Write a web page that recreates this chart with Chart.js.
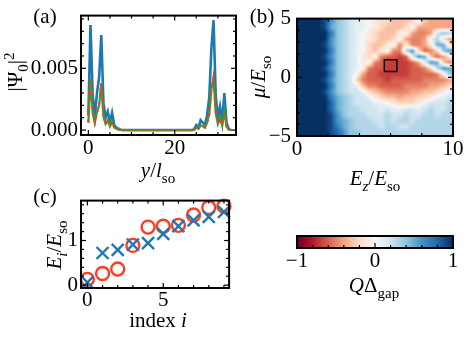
<!DOCTYPE html>
<html><head><meta charset="utf-8">
<script src="https://cdn.jsdelivr.net/npm/chart.js@4"></script>
<style>
html,body{margin:0;padding:0;background:#fff;}
body{width:469px;height:339px;position:relative;overflow:hidden;}
canvas{position:absolute;}
</style></head><body>
<canvas id="ca" width="240" height="185" style="left:0;top:0;width:240px;height:185px"></canvas>
<canvas id="cb" width="229" height="200" style="left:240px;top:0;width:229px;height:200px"></canvas>
<canvas id="cc" width="240" height="154" style="left:0;top:185px;width:240px;height:154px"></canvas>
<canvas id="cd" width="229" height="119" style="left:240px;top:220px;width:229px;height:119px"></canvas>
<script>
// ---------- panel (a) data ----------
const posY = [0,0.5,1,1.5,2,2.5,3,3.5,4,4.5,5,5.5,6,6.5,7,7.5,8,8.5,9,9.5,10,10.5,11,11.5,12,12.5,13,13.5,14,14.5,15,15.5,16,16.5,17,17.5,18,18.5,19,19.5,20,20.5,21,21.5,22,22.5,23,23.5,24,24.5,25,25.5,26,26.5,27,27.5,28,28.5,29,29.5,30,30.5,31,31.5,32,32.5,33];
const psiBlue = [0.0012,0.0085,0.0028,0.0012,0.0030,0.0043,0.0077,0.0022,0.0010,0.0015,0.0006,0.0014,0.0004,0.0002,0.0001,0.00003,
  0,0,0,0,0,0,0,0,0,0,0,
  0,0,0,0,0,0,0,0,0,0,0,
  0,0,0,0,0,0,0,0,0,0,0,
  0.00005,0.0004,0.0002,0.0008,0.0006,0.0004,0.0012,0.0026,0.0066,0.0089,0.0028,0.0010,0.0019,0.0007,0.0030,0.0006,0.0001,0];
const psiGreen = [0.0006,0.0042,0.0014,0.0006,0.0015,0.0020,0.0038,0.0011,0.0005,0.0008,0.0003,0.0007,0.0002,0.0001,0.00005,0.00002,
  0,0,0,0,0,0,0,0,0,0,0,
  0,0,0,0,0,0,0,0,0,0,0,
  0,0,0,0,0,0,0,0,0,0,0,
  0.00002,0.0002,0.0001,0.0004,0.0003,0.0002,0.0006,0.0013,0.0033,0.0043,0.0014,0.0005,0.0010,0.0004,0.0015,0.0003,0.00005,0];
const psiRed = [0.0006,0.0041,0.0015,0.0006,0.0014,0.0021,0.0037,0.0012,0.0005,0.0007,0.0003,0.0007,0.0002,0.0001,0.00005,0.00002,
  0,0,0,0,0,0,0,0,0,0,0,
  0,0,0,0,0,0,0,0,0,0,0,
  0,0,0,0,0,0,0,0,0,0,0,
  0.00002,0.0002,0.0001,0.0004,0.0003,0.0002,0.0006,0.0012,0.0032,0.0042,0.0015,0.0005,0.0009,0.0004,0.0014,0.0003,0.00005,0];
const aXTicks = [0,5,10,15,20,25,30];
const aXLabels = [0,20];
const aYTicks = [0,0.001,0.002,0.003,0.004,0.005,0.006,0.007,0.008,0.009];
const aYLabels = [0,0.005];

// ---------- panel (b) data ----------
const bXTicks = [0,2,4,6,8,10];
const bXLabels = [0,10];
const bYTicks = [-5,-4,-3,-2,-1,0,1,2,3,4,5];
const bYLabels = [-5,0,5];
const heatEz = [0,10];
const heatMu = [-5,5];
// rows from mu=+5 (top) to mu=-5 (bottom); columns Ez 0..10
// 'X'=1, '0'..'9'=0..0.9, 'a'..'j'=-0.1..-1.0
const heatRows = [
  "XXXX96432110abbcccb0cdddd",
  "XXXX95432110abcccb0dddddd",
  "XXXXX743210abccca0deed243",
  "XXXXX643210abccb0deed13bd",
  "XXXX9643210bcca0eaeeda55b",
  "XXXXX743210bca0ee36bfeb46",
  "XXXX964321ab0effgf165cfda",
  "XXXXX74321a0efggggfd165ce",
  "XXXX9643210effggggffeb365",
  "XXXXX74320dffgggggffffea4",
  "XXXX96432befffgfffffeeeed",
  "XXXXX74321ceeffffeeeeddcb",
  "XXXX9643221bcdeeeeddccba1",
  "XXXXX7543221abccdccbba112",
  "XXXXX8543222110abbba12223",
  "XXXXX85433222121122123223",
  "XXXXX96433322232232233233",
  "XXXXX96543332232332333333",
  "XXXXX97543333233223333333",
  "XXXXX98644333333333333333"
];
const boxEz = [5.6,6.4];
const boxMu = [0.5,1.5];

// ---------- panel (c) data ----------
const levelIndex = [0,1,2,3,4,5,6,7,8,9];
const energyCross = [0.06,0.72,0.79,0.91,0.94,1.15,1.32,1.45,1.53,1.64];
const energyCircle = [0.13,0.26,0.36,0.89,1.30,1.32,1.34,1.57,1.74,1.77];
const cXTicks = [0,1,2,3,4,5,6,7,8,9];
const cXLabels = [0,5];
const cYTicks = [0,0.2,0.4,0.6,0.8,1.0,1.2,1.4,1.6,1.8];
const cYLabels = [0,1];

// ---------- colorbar ----------
const cbTicks = [-1,-0.8,-0.6,-0.4,-0.2,0,0.2,0.4,0.6,0.8,1];
const cbLabels = [-1,0,1];
const rdbuStops = ['#67001f','#b2182b','#d6604d','#f4a582','#fddbc7','#f7f7f7','#d1e5f0','#92c5de','#4393c3','#2166ac','#053061'];

// ---------- helpers ----------
const FAM = "'Liberation Serif','DejaVu Serif',serif";
const TICKSIZE = 21;
Chart.defaults.font.family = FAM;
Chart.defaults.font.size = TICKSIZE;
Chart.defaults.color = '#000';
Chart.defaults.animation = false;

const isIn = (arr,v)=>arr.some(l=>Math.abs(l-v)<1e-9);
const fmtInt = v => (v<0?'\u2212':'') + Math.abs(Math.round(v));

function axis(min,max,ticks,labels,fmt,afterFit,pad){
  return {
    type:'linear', min, max,
    grid:{display:false, drawTicks:false}, border:{display:false},
    afterBuildTicks: s => { s.ticks = ticks.map(v=>({value:v})); },
    afterFit: afterFit,
    ticks:{autoSkip:false, maxRotation:0, minRotation:0, padding:pad,
      callback:(v)=> isIn(labels,v) ? fmt(v) : ''}
  };
}

function framePlugin(cfg){
  return {id:'frame'+Math.floor(Math.random()*1e6), afterDraw(chart){
    const {ctx, chartArea:a} = chart;
    const sx = chart.scales.x, sy = chart.scales.y;
    ctx.save(); ctx.strokeStyle='#000'; ctx.lineWidth=1.2;
    const ln=(x1,y1,x2,y2)=>{ctx.beginPath();ctx.moveTo(x1,y1);ctx.lineTo(x2,y2);ctx.stroke();};
    cfg.xTicks.forEach(v=>{ const p=sx.getPixelForValue(v); const L=isIn(cfg.xMajor,v)?5:3;
      ln(p,a.bottom,p,a.bottom-L); if(cfg.both) ln(p,a.top,p,a.top+L); });
    if(cfg.yTicks) cfg.yTicks.forEach(v=>{ const p=sy.getPixelForValue(v); const L=isIn(cfg.yMajor,v)?5:3;
      ln(a.left,p,a.left+L,p); if(cfg.both) ln(a.right,p,a.right-L,p); });
    ctx.lineWidth=2; ctx.strokeRect(a.left,a.top,a.right-a.left,a.bottom-a.top);
    ctx.restore();
  }};
}

function drawRich(ctx,x,y,segs,size,rot){
  ctx.save(); ctx.translate(x,y); if(rot) ctx.rotate(rot);
  const fontFor = s => (s.it?'italic ':'') + ((s.sub||s.sup)?Math.round(size*0.7):size) + 'px ' + FAM;
  let w=0; segs.forEach(s=>{ctx.font=fontFor(s); s.w=ctx.measureText(s.t).width; w+=s.w;});
  let cx=-w/2; ctx.textBaseline='alphabetic'; ctx.fillStyle='#000';
  segs.forEach(s=>{ctx.font=fontFor(s); const dy = s.sub? size*0.25 : (s.sup? -size*0.4 : 0);
    ctx.fillText(s.t,cx,dy+size*0.35); cx+=s.w;});
  ctx.restore();
}
function textPlugin(list,ox,oy){
  return {id:'txt'+Math.floor(Math.random()*1e6), afterDraw(chart){
    list.forEach(o=>drawRich(chart.ctx,o.x-ox,o.y-oy,o.segs,o.size||21,o.rot||0));
  }};
}

function hexToRgb(h){return [parseInt(h.slice(1,3),16),parseInt(h.slice(3,5),16),parseInt(h.slice(5,7),16)];}
const stopRgb = rdbuStops.map(hexToRgb);
function rdbu(v){
  const n=stopRgb.length-1; const t=(Math.max(-1,Math.min(1,v))+1)/2*n;
  const i=Math.min(Math.floor(t),n-1); const f=t-i;
  const a=stopRgb[i], b=stopRgb[i+1];
  return [a[0]+(b[0]-a[0])*f, a[1]+(b[1]-a[1])*f, a[2]+(b[2]-a[2])*f];
}
function decode(ch){
  if(ch==='X') return 1;
  if(ch>='0'&&ch<='9') return (ch.charCodeAt(0)-48)/10;
  return -(ch.charCodeAt(0)-96)/10;
}

// ---------- chart (a) ----------
const toXY = arr => posY.map((x,i)=>({x, y:arr[i]}));
new Chart(document.getElementById('ca'), {
  type:'scatter',
  data:{datasets:[
    {data:toXY(psiBlue), showLine:true, borderColor:'#1f77b4', borderWidth:2.6, pointRadius:0, order:2},
    {data:toXY(psiGreen), showLine:true, borderColor:'#2ca02c', borderWidth:2.2, pointRadius:0, order:1},
    {data:toXY(psiRed), showLine:true, borderColor:'#ff3b1f', borderWidth:2, borderDash:[3,4], pointRadius:0, order:0}
  ]},
  options:{responsive:false, devicePixelRatio:1,
    layout:{padding:{left:0,top:15,right:4,bottom:0}},
    plugins:{legend:{display:false}, tooltip:{enabled:false}},
    scales:{
      x: axis(-1.7,34.2,aXTicks,aXLabels,v=>String(v),s=>{s.height=50;},1),
      y: axis(-0.0004,0.00927,aYTicks,aYLabels,v=>v.toFixed(3),s=>{s.width=81;},3)
    }},
  plugins:[framePlugin({xTicks:aXTicks,xMajor:aXLabels,yTicks:aYTicks,yMajor:aYLabels,both:true}),
    textPlugin([
      {x:45,y:16,segs:[{t:'(a)'}]},
      {x:15,y:72,rot:-Math.PI/2,segs:[{t:'|\u03A8'},{t:'0',sub:true},{t:'|'},{t:'2',sup:true}]},
      {x:158,y:170,segs:[{t:'y',it:true},{t:'/'},{t:'l',it:true},{t:'so',sub:true}]}
    ],0,0)]
});

// ---------- chart (b) ----------
const heatPlugin = {id:'heat', beforeDatasetsDraw(chart){
  const {ctx, chartArea:a, scales:{x,y}} = chart;
  const nC=heatRows[0].length, nR=heatRows.length;
  const vals = heatRows.map(r=>r.split('').map(decode));
  const x0=x.getPixelForValue(heatEz[0]), x1=x.getPixelForValue(heatEz[1]);
  const y0=y.getPixelForValue(heatMu[1]), y1=y.getPixelForValue(heatMu[0]);
  const W=Math.round(x1-x0), H=Math.round(y1-y0);
  const off=document.createElement('canvas'); off.width=W; off.height=H;
  const octx=off.getContext('2d'); const img=octx.createImageData(W,H);
  for(let py=0;py<H;py++){
    let v=(py+0.5)/H*nR-0.5; v=Math.max(0,Math.min(nR-1,v));
    const r0=Math.floor(v), r1=Math.min(nR-1,r0+1), fy=v-r0;
    for(let px=0;px<W;px++){
      let u=(px+0.5)/W*nC-0.5; u=Math.max(0,Math.min(nC-1,u));
      const c0=Math.floor(u), c1=Math.min(nC-1,c0+1), fx=u-c0;
      const val=(vals[r0][c0]*(1-fx)+vals[r0][c1]*fx)*(1-fy)+(vals[r1][c0]*(1-fx)+vals[r1][c1]*fx)*fy;
      const col=rdbu(val); const k=(py*W+px)*4;
      img.data[k]=Math.round(col[0]); img.data[k+1]=Math.round(col[1]); img.data[k+2]=Math.round(col[2]); img.data[k+3]=255;
    }
  }
  octx.putImageData(img,0,0);
  ctx.save(); ctx.beginPath(); ctx.rect(a.left,a.top,a.right-a.left,a.bottom-a.top); ctx.clip();
  ctx.drawImage(off,x0,y0,W,H); ctx.restore();
}};
new Chart(document.getElementById('cb'), {
  type:'scatter',
  data:{datasets:[
    {data:[{x:boxEz[0],y:boxMu[0]},{x:boxEz[1],y:boxMu[0]},{x:boxEz[1],y:boxMu[1]},{x:boxEz[0],y:boxMu[1]},{x:boxEz[0],y:boxMu[0]}],
     showLine:true, borderColor:'#000', borderWidth:1.5, pointRadius:0, fill:false}
  ]},
  options:{responsive:false, devicePixelRatio:1,
    layout:{padding:{left:0,top:15,right:16,bottom:0}},
    plugins:{legend:{display:false}, tooltip:{enabled:false}},
    scales:{
      x: axis(0,10,bXTicks,bXLabels,fmtInt,s=>{s.height=64;},1),
      y: axis(-5,5,bYTicks,bYLabels,fmtInt,s=>{s.width=57;},6)
    }},
  plugins:[heatPlugin, framePlugin({xTicks:bXTicks,xMajor:bXLabels,yTicks:bYTicks,yMajor:bYLabels,both:true}),
    textPlugin([
      {x:262,y:16,segs:[{t:'(b)'}]},
      {x:258,y:77,rot:-Math.PI/2,segs:[{t:'\u03BC',it:true},{t:'/'},{t:'E',it:true},{t:'so',sub:true}]},
      {x:375,y:178,segs:[{t:'E',it:true},{t:'z',it:true,sub:true},{t:'/'},{t:'E',it:true},{t:'so',sub:true}]}
    ],240,0)]
});

// ---------- chart (c) ----------
new Chart(document.getElementById('cc'), {
  type:'scatter',
  data:{datasets:[
    {data:levelIndex.map((i,k)=>({x:i,y:energyCross[k]})), pointStyle:'crossRot', pointRadius:8.5, borderWidth:2.4, borderColor:'#1f77b4', backgroundColor:'#1f77b4', clip:false},
    {data:levelIndex.map((i,k)=>({x:i,y:energyCircle[k]})), pointStyle:'circle', pointRadius:6.5, borderWidth:2.4, borderColor:'#ff3b1f', backgroundColor:'rgba(0,0,0,0)', clip:false}
  ]},
  options:{responsive:false, devicePixelRatio:1,
    layout:{padding:{left:0,top:11,right:4,bottom:0}},
    plugins:{legend:{display:false}, tooltip:{enabled:false}},
    scales:{
      x: axis(-0.42,9.34,cXTicks,cXLabels,fmtInt,s=>{s.height=51;},0),
      y: axis(-0.064,1.894,cYTicks,cYLabels,fmtInt,s=>{s.width=81;},3)
    }},
  plugins:[framePlugin({xTicks:cXTicks,xMajor:cXLabels,yTicks:cYTicks,yMajor:cYLabels,both:true}),
    textPlugin([
      {x:45,y:196,segs:[{t:'(c)'}]},
      {x:54,y:245,rot:-Math.PI/2,segs:[{t:'E',it:true},{t:'i',it:true,sub:true},{t:'/'},{t:'E',it:true},{t:'so',sub:true}]},
      {x:158,y:320,segs:[{t:'index '},{t:'i',it:true}]}
    ],0,185)]
});

// ---------- colorbar ----------
const cbPlugin = {id:'cbar', beforeDatasetsDraw(chart){
  const {ctx, chartArea:a, scales:{x}} = chart;
  const g=ctx.createLinearGradient(x.getPixelForValue(-1),0,x.getPixelForValue(1),0);
  rdbuStops.forEach((c,i)=>g.addColorStop(i/(rdbuStops.length-1),c));
  ctx.save(); ctx.fillStyle=g; ctx.fillRect(a.left,a.top,a.right-a.left,a.bottom-a.top); ctx.restore();
}};
new Chart(document.getElementById('cd'), {
  type:'scatter',
  data:{datasets:[{data:[]}]},
  options:{responsive:false, devicePixelRatio:1,
    layout:{padding:{left:57,top:16,right:16,bottom:0}},
    plugins:{legend:{display:false}, tooltip:{enabled:false}},
    scales:{
      x: axis(-1,1,cbTicks,cbLabels,fmtInt,s=>{s.height=91;},1),
      y: {type:'linear',min:0,max:1,display:false}
    }},
  plugins:[cbPlugin, framePlugin({xTicks:cbTicks,xMajor:cbLabels,both:false}),
    textPlugin([
      {x:374,y:285,segs:[{t:'Q',it:true},{t:'\u0394'},{t:'gap',sub:true}]}
    ],240,220)]
});
</script>
</body></html>
